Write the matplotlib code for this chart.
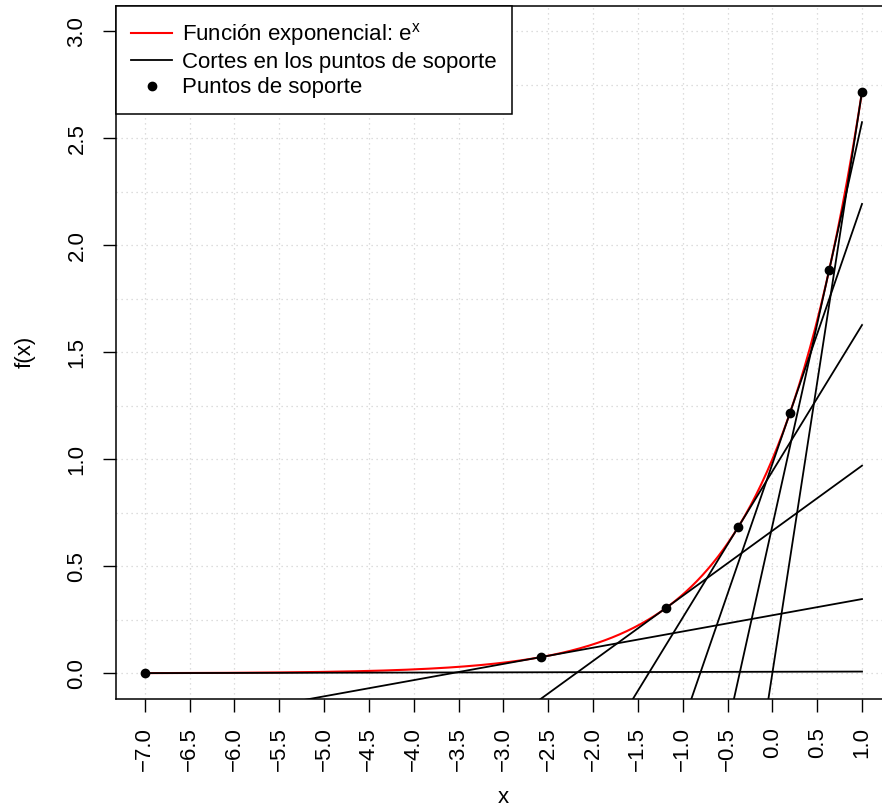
import numpy as np
import matplotlib
matplotlib.use('Agg')
import matplotlib.pyplot as plt
from matplotlib.lines import Line2D

# puntos de soporte y rango de la funcion
x_soporte = [-7.0, -2.58, -1.19, -0.38, 0.195, 0.635, 1.0]
x_min, x_max = -7.0, 1.0
x_ticks = np.arange(-7.0, 1.01, 0.5)
y_ticks = [0.0, 0.5, 1.0, 1.5, 2.0, 2.5, 3.0]

plt.rcParams['font.family'] = ['Liberation Sans', 'DejaVu Sans']
plt.rcParams['mathtext.fontset'] = 'custom'
plt.rcParams['mathtext.rm'] = 'Liberation Sans'
plt.rcParams['mathtext.default'] = 'regular'

def etiqueta(v):
    return ('%.1f' % v).replace('-', '\u2212')

fig = plt.figure(figsize=(8.82, 8.09), dpi=100)
ax = fig.add_axes([116 / 882, 1 - 699 / 809, 774.7 / 882, 693.3 / 809])

# rejilla punteada
for xv in x_ticks:
    ax.axvline(xv, color='lightgray', lw=0.9, ls=(0, (1, 3)), zorder=0)
for yv in np.arange(0.0, 3.01, 0.25):
    ax.axhline(yv, color='lightgray', lw=0.9, ls=(0, (1, 3)), zorder=0)

# funcion exponencial
xs = np.linspace(x_min, x_max, 400)
ax.plot(xs, np.exp(xs), color='red', lw=1.5, zorder=2)

# tangentes en cada punto de soporte
for x0 in x_soporte:
    xt = np.array([x_min, x_max])
    yt = np.exp(x0) * (1 + xt - x0)
    ax.plot(xt, yt, color='black', lw=1.3, zorder=3)

ax.plot(x_soporte, np.exp(x_soporte), 'o', color='black', ms=6, zorder=4)

ax.set_xlim(-7.32, 1.32)
ax.set_ylim(-0.12, 3.12)
ax.set_xticks(x_ticks)
ax.set_xticklabels([etiqueta(v) for v in x_ticks], rotation=90)
ax.set_yticks(y_ticks)
ax.set_yticklabels([etiqueta(v) for v in y_ticks], rotation=90, va='center')
ax.tick_params(direction='out', length=9.5, width=1.0, labelsize=16)
ax.tick_params(axis='x', pad=11)
ax.tick_params(axis='y', pad=11)
for s in ax.spines.values():
    s.set_linewidth(1.1)

ax.set_xlabel('x', fontsize=16, labelpad=11)
ax.set_ylabel('f(x)', fontsize=16, labelpad=22)

handles = [
    Line2D([], [], color='red', lw=1.5),
    Line2D([], [], color='black', lw=1.3),
    Line2D([], [], color='black', marker='o', ls='none', ms=6),
]
labels = ['Función exponencial: e$^{x}$', 'Cortes en los puntos de soporte', 'Puntos de soporte']
leg = ax.legend(handles, labels, loc='upper left', bbox_to_anchor=(0, 1), borderaxespad=0,
                fancybox=False, framealpha=1, edgecolor='black', fontsize=16,
                handlelength=1.85, handletextpad=0.45, labelspacing=0.19, borderpad=0.69)
leg.get_frame().set_linewidth(1.1)

fig.savefig('out.png', dpi=100)
